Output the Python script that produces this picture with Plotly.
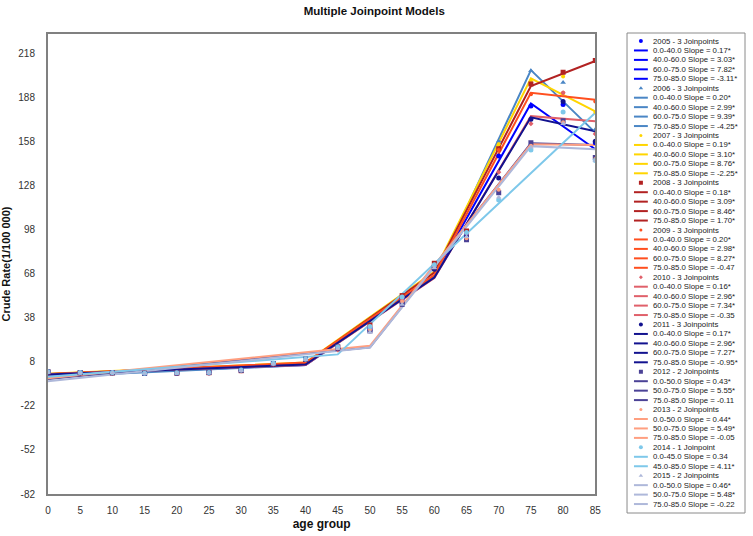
import plotly.graph_objects as go

# ---------------- data ----------------
ages = [0, 5, 10, 15, 20, 25, 30, 35, 40, 45, 50, 55, 60, 65, 70, 75, 80, 85]
years = ["2005", "2006", "2007", "2008", "2009", "2010", "2011", "2012", "2013", "2014", "2015"]
colors = ["#0000FF", "#4A86C5", "#FFD500", "#B22222", "#FF4F1F", "#E0606A",
          "#12128F", "#4B4296", "#FF9F80", "#7EC8EA", "#AEB8DA"]
symbols = ["circle", "triangle-up", "circle", "square", "circle", "diamond",
           "circle", "square", "circle", "circle", "triangle-up"]
msizes = [5, 5, 4, 5, 4, 4, 5, 5, 4, 5, 5]

headers = ["2005 - 3 Joinpoints", "2006 - 3 Joinpoints", "2007 - 3 Joinpoints",
           "2008 - 3 Joinpoints", "2009 - 3 Joinpoints", "2010 - 3 Joinpoints",
           "2011 - 3 Joinpoints", "2012 - 2 Joinpoints", "2013 - 2 Joinpoints",
           "2014 - 1 Joinpoint", "2015 - 2 Joinpoints"]
seg_labels = [
    ["0.0-40.0 Slope = 0.17*", "40.0-60.0 Slope = 3.03*", "60.0-75.0 Slope = 7.82*", "75.0-85.0 Slope = -3.11*"],
    ["0.0-40.0 Slope = 0.20*", "40.0-60.0 Slope = 2.99*", "60.0-75.0 Slope = 9.39*", "75.0-85.0 Slope = -4.25*"],
    ["0.0-40.0 Slope = 0.19*", "40.0-60.0 Slope = 3.10*", "60.0-75.0 Slope = 8.76*", "75.0-85.0 Slope = -2.25*"],
    ["0.0-40.0 Slope = 0.18*", "40.0-60.0 Slope = 3.09*", "60.0-75.0 Slope = 8.46*", "75.0-85.0 Slope = 1.70*"],
    ["0.0-40.0 Slope = 0.20*", "40.0-60.0 Slope = 2.98*", "60.0-75.0 Slope = 8.27*", "75.0-85.0 Slope = -0.47"],
    ["0.0-40.0 Slope = 0.16*", "40.0-60.0 Slope = 2.96*", "60.0-75.0 Slope = 7.34*", "75.0-85.0 Slope = -0.35"],
    ["0.0-40.0 Slope = 0.17*", "40.0-60.0 Slope = 2.96*", "60.0-75.0 Slope = 7.27*", "75.0-85.0 Slope = -0.95*"],
    ["0.0-50.0 Slope = 0.43*", "50.0-75.0 Slope = 5.55*", "75.0-85.0 Slope = -0.11"],
    ["0.0-50.0 Slope = 0.44*", "50.0-75.0 Slope = 5.49*", "75.0-85.0 Slope = -0.05"],
    ["0.0-45.0 Slope = 0.34", "45.0-85.0 Slope = 4.11*"],
    ["0.0-50.0 Slope = 0.46*", "50.0-75.0 Slope = 5.48*", "75.0-85.0 Slope = -0.22"],
]

# fitted joinpoint models (ages of joinpoints and fitted rates there)
fit_ages = [
    [0, 40, 60, 75, 85], [0, 40, 60, 75, 85], [0, 40, 60, 75, 85], [0, 40, 60, 75, 85],
    [0, 40, 60, 75, 85], [0, 40, 60, 75, 85], [0, 40, 60, 75, 85],
    [0, 50, 75, 85], [0, 50, 75, 85], [0, 45, 85], [0, 50, 75, 85],
]
fit_vals = [
    [-1.0, 5.8, 66.4, 183.7, 152.6],
    [-2.3, 5.7, 65.5, 206.4, 163.9],
    [-0.2, 7.4, 69.4, 200.8, 178.3],
    [-0.3, 6.9, 68.7, 195.6, 212.6],
    [-0.6, 7.4, 67.0, 191.0, 186.3],
    [-0.6, 5.8, 65.0, 175.1, 171.6],
    [-0.7, 6.1, 65.3, 174.3, 164.8],
    [-3.7, 17.9, 156.6, 155.5],
    [-3.3, 18.8, 156.0, 155.5],
    [-2.3, 13.0, 177.4],
    [-5.3, 17.7, 154.7, 152.5],
]

# observed crude rates per age group
observed = [
    [1.0, 0.5, 0.6, 0.0, 0.3, 0.5, 2.0, 6.5, 9.5, 17, 31, 51, 72, 95, 148, 182, 183, 157],
    [0.8, 0.4, 0.5, 0.1, 0.2, 0.6, 2.1, 6.3, 9.2, 16, 30, 50, 73, 96, 158, 206, 198, 166],
    [1.1, 0.6, 0.5, 0.0, 0.4, 0.7, 2.2, 6.6, 9.8, 17, 32, 52, 74, 96, 156, 199, 202, 178],
    [0.9, 0.5, 0.4, 0.2, 0.3, 0.5, 1.9, 6.4, 9.6, 18, 33, 53, 75, 97, 153, 197, 205, 213],
    [1.0, 0.6, 0.5, 0.1, 0.5, 0.6, 2.0, 6.7, 9.4, 17, 31, 51, 73, 95, 152, 190, 191, 185],
    [0.7, 0.4, 0.6, 0.0, 0.2, 0.4, 1.8, 6.2, 9.3, 16, 30, 50, 71, 94, 137, 170, 191, 163],
    [0.9, 0.5, 0.5, 0.1, 0.3, 0.5, 2.0, 6.5, 9.5, 17, 29, 48, 71, 93, 133, 173, 185, 158],
    [1.2, 0.6, 0.5, 0.0, 0.4, 0.8, 2.2, 6.8, 9.7, 18, 29, 47, 72, 91, 123, 157, 172, 147],
    [1.0, 0.5, 0.4, 0.1, 0.3, 0.6, 2.0, 6.6, 9.5, 17, 30, 49, 73, 92, 125, 155, 171, 146],
    [1.1, 0.7, 0.6, 0.2, 0.5, 0.7, 2.3, 6.9, 9.9, 18, 32, 52, 74, 96, 118, 152, 178, 145],
    [0.8, 0.4, 0.5, 0.0, 0.2, 0.5, 1.9, 6.4, 9.6, 17, 28, 47, 72, 93, 120, 154, 170, 145],
]

y_ticks = [-82, -52, -22, 8, 38, 68, 98, 128, 158, 188, 218]
x_ticks = ages

# ---------------- figure ----------------
FONT = "Liberation Sans, Arial, sans-serif"
fig = go.Figure()

for i, yr in enumerate(years):
    fig.add_trace(go.Scatter(
        x=fit_ages[i], y=fit_vals[i], mode="lines",
        line=dict(color=colors[i], width=2),
        showlegend=False, hoverinfo="skip"))

for i, yr in enumerate(years):
    fig.add_trace(go.Scatter(
        x=ages, y=observed[i], mode="markers",
        marker=dict(color=colors[i], symbol=symbols[i], size=msizes[i], line=dict(width=0)),
        showlegend=False, name=yr))

# custom legend drawn on a helper axis pair (units = pixels)
LEG_Y0 = 41.0
LEG_STEP = 9.45
annotations = []
row = 0
for i, yr in enumerate(years):
    yh = LEG_Y0 + LEG_STEP * row
    fig.add_trace(go.Scatter(
        x=[14], y=[yh], mode="markers", xaxis="x2", yaxis="y2",
        marker=dict(color=colors[i], symbol=symbols[i], size=msizes[i] - 1, line=dict(width=0)),
        showlegend=False, hoverinfo="skip"))
    annotations.append(dict(x=24, y=yh, xref="x2", yref="y2", text=headers[i],
                            showarrow=False, xanchor="left", yanchor="middle",
                            font=dict(size=7.8, color="#222", family=FONT)))
    row += 1
    lx, ly = [], []
    for lab in seg_labels[i]:
        yl = LEG_Y0 + LEG_STEP * row
        lx += [7, 21, None]
        ly += [yl, yl, None]
        annotations.append(dict(x=24, y=yl, xref="x2", yref="y2", text=lab,
                                showarrow=False, xanchor="left", yanchor="middle",
                                font=dict(size=7.8, color="#222", family=FONT)))
        row += 1
    fig.add_trace(go.Scatter(
        x=lx, y=ly, mode="lines", xaxis="x2", yaxis="y2",
        line=dict(color=colors[i], width=2),
        showlegend=False, hoverinfo="skip"))

W, H = 753, 536
ML, MR, MT, MB = 48, 1, 30, 20
PW, PH = W - ML - MR, H - MT - MB
plot_left, plot_right, plot_top, plot_bottom = 48, 600, 34, 494
leg_left, leg_right, leg_top, leg_bottom = 632, 751, 33, 513

fig.update_layout(
    width=W, height=H,
    margin=dict(l=ML, r=MR, t=MT, b=MB),
    paper_bgcolor="white", plot_bgcolor="white",
    font=dict(family=FONT, color="#333", size=10),
    showlegend=False,
    title=dict(text="<b>Multiple Joinpoint Models</b>", x=0.497, xanchor="center",
               y=1 - 11 / H, yanchor="middle", yref="container",
               font=dict(size=11.5, color="#111", family=FONT)),
    xaxis=dict(
        domain=[0, (plot_right - ML) / PW],
        range=[0, 85], tickvals=x_ticks, ticktext=[str(v) for v in x_ticks],
        showgrid=False, zeroline=False, showline=True, linecolor="#808080", linewidth=2,
        mirror=True, ticks="", ticklabelstandoff=6,
        tickfont=dict(size=10, color="#333"),
        title=dict(text="<b>age group</b>", font=dict(size=12, color="#111"), standoff=5),
    ),
    yaxis=dict(
        domain=[(H - MB - plot_bottom) / PH, (H - MB - plot_top) / PH],
        range=[-82, 231], tickvals=y_ticks, ticktext=[str(v) for v in y_ticks],
        showgrid=False, zeroline=False, showline=True, linecolor="#808080", linewidth=2,
        mirror=True, ticks="", ticklabelstandoff=9,
        tickfont=dict(size=10, color="#333"),
        title=dict(text="<b>Crude Rate(1/100 000)</b>", font=dict(size=11, color="#111"), standoff=5),
    ),
    xaxis2=dict(
        domain=[(leg_left - ML) / PW, (leg_right - ML) / PW], range=[0, leg_right - leg_left],
        anchor="y2", visible=False, fixedrange=True),
    yaxis2=dict(
        domain=[(H - MB - leg_bottom) / PH, (H - MB - leg_top) / PH], range=[leg_bottom, leg_top],
        anchor="x2", visible=False, fixedrange=True),
    annotations=annotations,
    shapes=[dict(type="rect", xref="x2 domain", yref="y2 domain", x0=0, x1=1, y0=0, y1=1,
                 line=dict(color="#8a8a8a", width=1), fillcolor="rgba(0,0,0,0)")],
)

fig.write_html("out.html",
               config={"displayModeBar": False},
               post_script="document.body.style.margin='0';document.body.style.overflow='hidden';")
